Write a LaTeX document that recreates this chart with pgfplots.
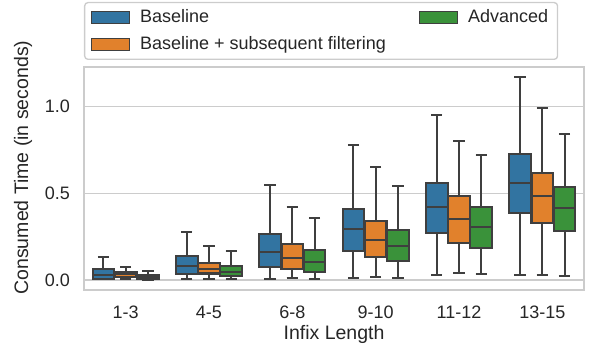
\documentclass[border=0pt]{standalone}
\usepackage{fontspec}
\setmainfont{Liberation Sans}
\usepackage{pgfplots}
\pgfplotsset{compat=1.18}
\usepackage{pgfplotstable}
\usepgfplotslibrary{statistics}

\definecolor{cblue}{HTML}{3274A1}
\definecolor{corange}{HTML}{E1812C}
\definecolor{cgreen}{HTML}{3A923A}
\definecolor{edgegray}{HTML}{3F3F3F}
\definecolor{gridgray}{HTML}{CCCCCC}
\definecolor{textgray}{HTML}{262626}

% five-number summaries, one row per infix length group
\pgfplotstableread{
lw    lq    med   uq    uw
0.003 0.006 0.027 0.062 0.134
0.004 0.033 0.081 0.140 0.279
0.006 0.073 0.163 0.267 0.550
0.010 0.165 0.292 0.412 0.777
0.029 0.269 0.421 0.558 0.954
0.029 0.389 0.560 0.729 1.171
}\base
\pgfplotstableread{
lw    lq    med   uq    uw
0.006 0.019 0.035 0.046 0.073
0.008 0.037 0.062 0.100 0.198
0.012 0.062 0.129 0.208 0.421
0.015 0.134 0.231 0.342 0.650
0.038 0.215 0.350 0.487 0.804
0.027 0.327 0.483 0.619 0.992
}\filt
\pgfplotstableread{
lw    lq    med   uq    uw
0.000 0.006 0.017 0.031 0.054
0.004 0.023 0.046 0.081 0.167
0.006 0.046 0.106 0.173 0.356
0.012 0.110 0.198 0.288 0.540
0.033 0.187 0.308 0.421 0.721
0.025 0.285 0.415 0.538 0.841
}\adv

% #1 table, #2 row, #3 offset, #4 colour
\newcommand{\boxat}[4]{%
  \pgfplotstablegetelem{#2}{lw}\of#1\edef\vlw{\pgfplotsretval}%
  \pgfplotstablegetelem{#2}{lq}\of#1\edef\vlq{\pgfplotsretval}%
  \pgfplotstablegetelem{#2}{med}\of#1\edef\vmed{\pgfplotsretval}%
  \pgfplotstablegetelem{#2}{uq}\of#1\edef\vuq{\pgfplotsretval}%
  \pgfplotstablegetelem{#2}{uw}\of#1\edef\vuw{\pgfplotsretval}%
  \edef\tmp{\noexpand\addplot[forget plot, draw=edgegray, fill=#4, line width=1.25pt,
      boxplot prepared={draw direction=y, draw position=#2+#3,
        box extend=0.26, whisker extend=0.135,
        lower whisker=\vlw, lower quartile=\vlq, median=\vmed,
        upper quartile=\vuq, upper whisker=\vuw}] coordinates {};}%
  \tmp
}
\newcommand{\boxseries}[3]{%
  \pgfplotsinvokeforeach{0,...,5}{\boxat{#1}{##1}{#2}{#3}}%
}

\pgfplotsset{patch/.style={legend image code/.code={
  \draw[sharp corners, fill=#1, draw=edgegray, line width=0.4pt] (0pt,-3.6pt) rectangle (22.8pt,3.6pt);}}}

\begin{document}
\begin{tikzpicture}
\begin{axis}[
  scale only axis, width=300pt, height=133.8pt,
  xmin=-0.5, xmax=5.5, ymin=-0.058, ymax=1.229,
  xtick={0,...,5},
  xticklabels={1-3,4-5,6-8,9-10,11-12,13-15},
  ytick={0,0.5,1},
  /pgf/number format/fixed, /pgf/number format/fixed zerofill,
  /pgf/number format/precision=1, /pgf/number format/assume math mode=true,
  major tick length=0pt,
  tick label style={font=\fontsize{10.8}{13}\selectfont, text=textgray},
  yticklabel style={xshift=-5pt},
  xticklabel style={yshift=-6pt},
  axis line style={draw=gridgray, line width=1.1pt},
  ymajorgrids, grid style={draw=gridgray, line width=0.8pt},
  xlabel={Infix Length},
  ylabel={Consumed Time (in seconds)},
  label style={font=\fontsize{11.7}{14}\selectfont, text=textgray},
  xlabel style={at={(axis description cs:0.5,0)}, anchor=north, inner sep=0pt, yshift=-21pt},
  ylabel style={at={(axis description cs:-0.122,0.549)}, anchor=center, inner sep=0pt},
  legend columns=2, legend cell align=left,
  legend style={at={(0,1)}, anchor=south west, yshift=4.2pt,
    draw=gridgray, line width=0.8pt, rounded corners=2pt, fill=white,
    font=\fontsize{10.8}{13}\selectfont, text=textgray,
    inner xsep=3.6pt, inner ysep=2.2pt, row sep=3pt,
    /tikz/every odd column/.append style={column sep=4.5pt},
    /tikz/every even column/.append style={column sep=17.7pt}},
]
\addlegendimage{patch=cblue}\addlegendentry{Baseline}
\addlegendimage{patch=cgreen}\addlegendentry{Advanced\hspace{11pt}}
\addlegendimage{patch=corange}\addlegendentry{Baseline + subsequent filtering}

\boxseries{\base}{-0.2667}{cblue}
\boxseries{\filt}{0}{corange}
\boxseries{\adv}{0.2667}{cgreen}
\end{axis}
% page margins as in the reference
\path (current axis.south west) ++(-50.4pt,-37.2pt);
\path (current axis.north east) ++(8.4pt,40.2pt);
\end{tikzpicture}
\end{document}
